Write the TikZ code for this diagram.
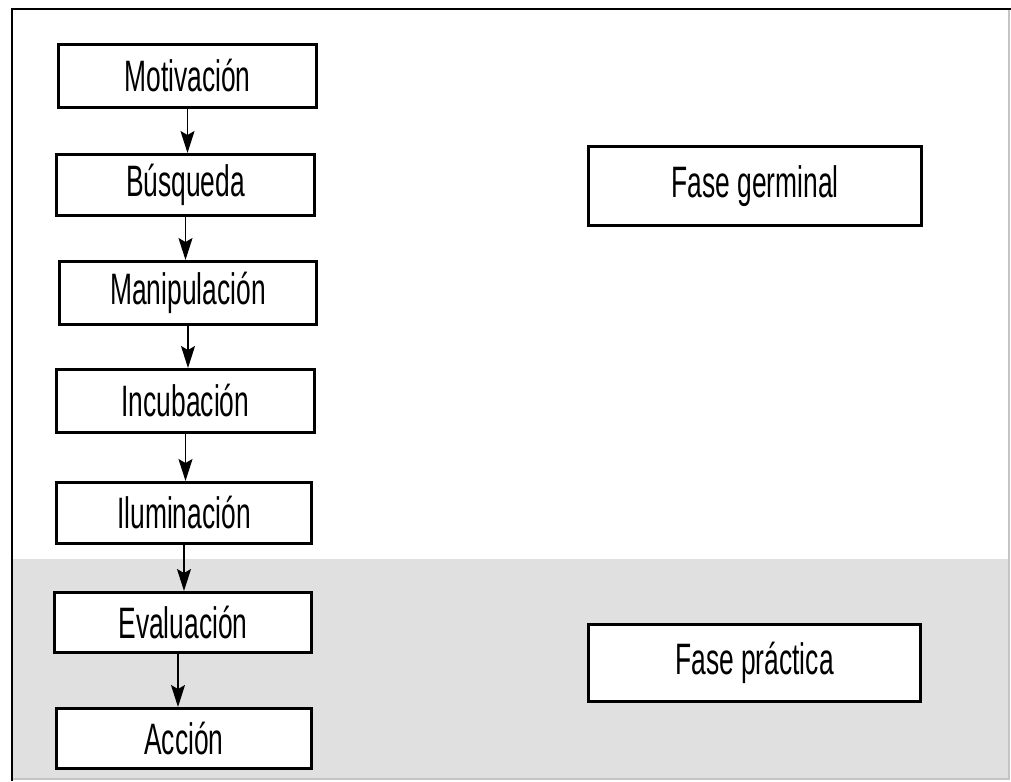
\documentclass[tikz,border=0pt]{standalone}
\usepackage{fontspec}
\setmainfont{Liberation Sans}
\usetikzlibrary{arrows.meta}
\definecolor{bandgray}{HTML}{E0E0E0}
\definecolor{edgegray}{HTML}{C4C4C4}
\tikzset{
  stepbox/.style={draw=black, line width=3pt, fill=white, inner sep=0pt,
    font=\fontsize{44}{50}\selectfont},
  flowtip/.tip={Stealth[length=22pt,width=14pt,inset=4pt]},
  flow/.style={line width=1.4pt, -flowtip},
}
\newcommand{\cond}[1]{\raisebox{-2pt}{\scalebox{0.6}[1]{#1}}}
\begin{document}
\begin{tikzpicture}
\begin{scope}[x=1pt,y=-1pt]
\useasboundingbox (0,0) rectangle (1011,781);
% shaded practical band
\fill[bandgray] (13,559) rectangle (1008,779);
% frame
\draw[edgegray, line width=1.5pt] (1009,9) -- (1009,779) -- (12,779);
\draw[black, line width=2.5pt] (1011,9) -- (12,9) -- (12,781);
% left chain
\node[stepbox, minimum width=258pt, minimum height=63pt] (mot) at (187.5,76) {\cond{Motivación}};
\node[stepbox, minimum width=258pt, minimum height=61pt] (bus) at (185.5,185) {\cond{Búsqueda}};
\node[stepbox, minimum width=257pt, minimum height=63pt] (man) at (188,293) {\cond{Manipulación}};
\node[stepbox, minimum width=258pt, minimum height=63pt] (inc) at (185.5,401) {\cond{Incubación}};
\node[stepbox, minimum width=255pt, minimum height=61pt] (ilu) at (184,513) {\cond{Iluminación}};
\node[stepbox, minimum width=257pt, minimum height=60pt] (eva) at (183,622.5) {\cond{Evaluación}};
\node[stepbox, minimum width=255pt, minimum height=60pt] (acc) at (184,738.5) {\cond{Acción}};
% right phases
\node[stepbox, minimum width=333pt, minimum height=79pt] (fg) at (755,186) {\cond{Fase germinal}};
\node[stepbox, minimum width=332pt, minimum height=77pt] (fp) at (754.5,663) {\cond{Fase práctica}};
\end{scope}
% arrows
\draw[flow] (mot.south) -- (mot.south |- bus.north);
\draw[flow] (bus.south) -- (bus.south |- man.north);
\draw[flow] (man.south) -- (man.south |- inc.north);
\draw[flow] (inc.south) -- (inc.south |- ilu.north);
\draw[flow] (ilu.south) -- (ilu.south |- eva.north);
\draw[flow] ([xshift=-5pt]eva.south) -- ([xshift=-5pt]eva.south |- acc.north);
\end{tikzpicture}
\end{document}
